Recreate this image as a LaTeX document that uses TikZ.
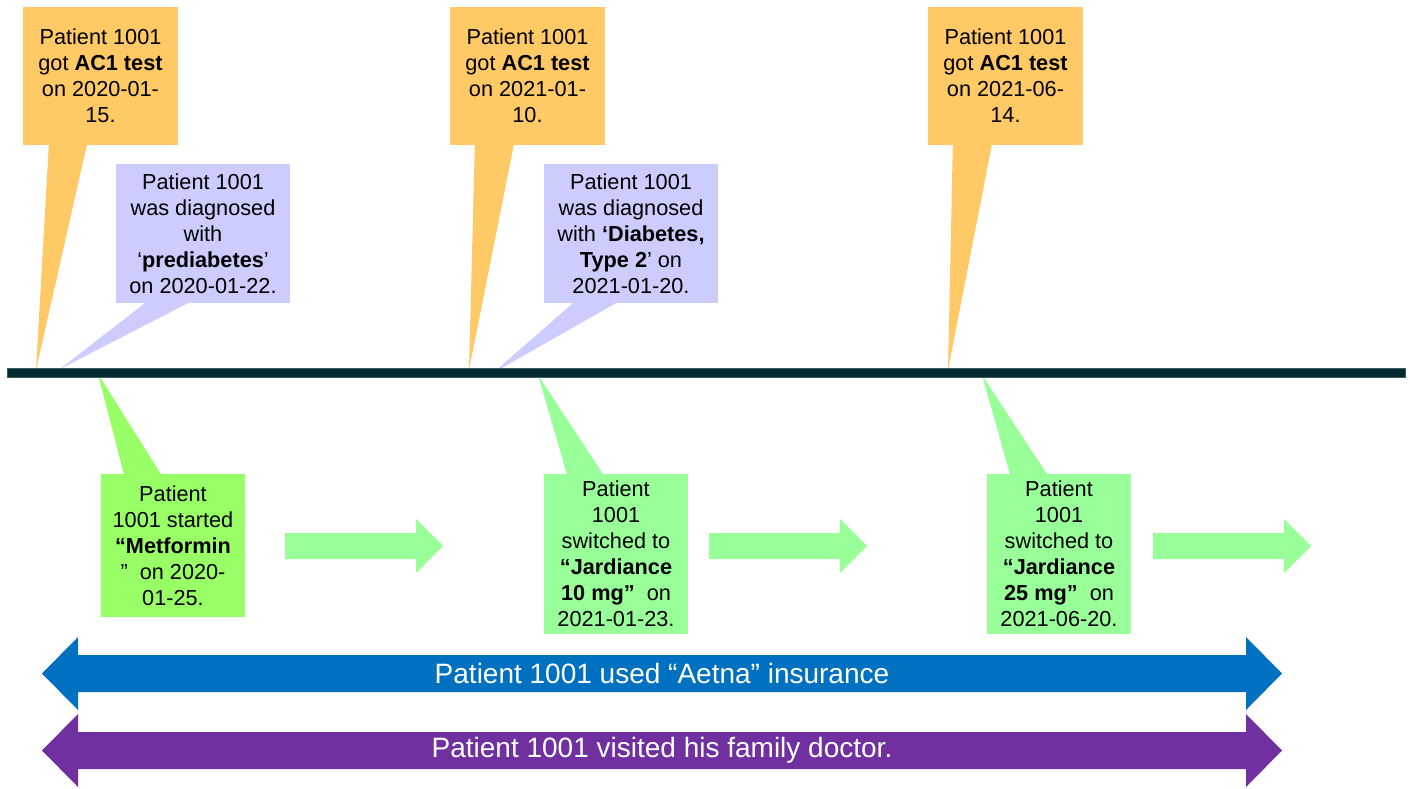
\documentclass[tikz,border=0pt]{standalone}
\usepackage{fontspec}
\setmainfont{Liberation Sans}
\usetikzlibrary{calc}
\definecolor{corange}{HTML}{FFCA66}
\definecolor{cpurple}{HTML}{CCCCFF}
\definecolor{cgreenA}{HTML}{99FF66}
\definecolor{cgreenB}{HTML}{99FF99}
\definecolor{cline}{HTML}{052A30}
\definecolor{clineb}{HTML}{3A5A5E}
\definecolor{cblue}{HTML}{0070C0}
\definecolor{cviolet}{HTML}{7030A0}
\begin{document}
\begin{tikzpicture}[x=1pt,y=-1pt,
  callout/.style={inner sep=0pt, align=center, font=\fontsize{21.7}{26}\selectfont},
  obox/.style={callout, fill=corange, minimum width=155, minimum height=138},
  pbox/.style={callout, fill=cpurple, minimum width=174, minimum height=139},
  gboxA/.style={callout, fill=cgreenA, minimum width=144, minimum height=143},
  gboxB/.style={callout, fill=cgreenB, minimum width=144, minimum height=160},
  bandtext/.style={text=white, font=\fontsize{28}{30}\selectfont, inner sep=0pt},
  garrow/.pic={\fill[cgreenB] (0,-13) -- (131,-13) -- (131,-27) -- (158,0) -- (131,27) -- (131,13) -- (0,13) -- cycle;}
]
\useasboundingbox (0,0) rectangle (1410,789);

% tip coordinates on the timeline
\coordinate (to1) at (36,370);
\coordinate (to2) at (469,370);
\coordinate (to3) at (948,370);
\coordinate (tp1) at (60,369);
\coordinate (tp2) at (493,373);
\coordinate (tg1) at (98,374);
\coordinate (tg2) at (538,375);
\coordinate (tg3) at (982,375);

% boxes
\node[obox] (o1) at (100.5,76) {Patient 1001\\got \textbf{AC1 test}\\on 2020-01-\\15.};
\node[obox] (o2) at (527.5,76) {Patient 1001\\got \textbf{AC1 test}\\on 2021-01-\\10.};
\node[obox] (o3) at (1005.5,76) {Patient 1001\\got \textbf{AC1 test}\\on 2021-06-\\14.};
\node[pbox] (p1) at (203,233.5) {Patient 1001\\was diagnosed\\with\\‘\textbf{prediabetes}’\\on 2020-01-22.};
\node[pbox] (p2) at (631,233.5) {Patient 1001\\was diagnosed\\with \textbf{‘Diabetes,}\\\textbf{Type 2}’ on\\2021-01-20.};
\node[gboxA] (g1) at (173,545.5) {Patient\\1001 started\\\textbf{“Metformin}\\” \ on 2020-\\01-25.};
\node[gboxB] (g2) at (616,554) {Patient\\1001\\switched to\\\textbf{“Jardiance}\\\textbf{10 mg”} \ on\\2021-01-23.};
\node[gboxB] (g3) at (1059,554) {Patient\\1001\\switched to\\\textbf{“Jardiance}\\\textbf{25 mg”} \ on\\2021-06-20.};

% pointers
\fill[corange] ($(o1.south west)+(26,0)$) -- (to1) -- ($(o1.south west)+(64,0)$) -- cycle;
\fill[corange] ($(o2.south west)+(25,0)$) -- (to2) -- ($(o2.south west)+(64,0)$) -- cycle;
\fill[corange] ($(o3.south west)+(25,0)$) -- (to3) -- ($(o3.south west)+(64,0)$) -- cycle;
\fill[cpurple] ($(p1.south west)+(29,0)$) -- (tp1) -- ($(p1.south west)+(72,0)$) -- cycle;
\fill[cpurple] ($(p2.south west)+(29,0)$) -- (tp2) -- ($(p2.south west)+(72,0)$) -- cycle;
\fill[cgreenA] ($(g1.north west)+(23,0)$) -- (tg1) -- ($(g1.north west)+(60,0)$) -- cycle;
\fill[cgreenB] ($(g2.north west)+(23,0)$) -- (tg2) -- ($(g2.north west)+(59,0)$) -- cycle;
\fill[cgreenB] ($(g3.north west)+(23,0)$) -- (tg3) -- ($(g3.north west)+(60,0)$) -- cycle;

% timeline
\filldraw[fill=cline, draw=clineb, line width=0.8] (7,368) rectangle (1405,377);

% green block arrows
\pic at (285,546) {garrow};
\pic at (709,546) {garrow};
\pic at (1153,546) {garrow};

% double arrows
\fill[cblue] (42,673.5) -- (78,637) -- (78,655) -- (1246,655) -- (1246,637) -- (1282,673.5) -- (1246,710) -- (1246,692) -- (78,692) -- (78,710) -- cycle;
\node[bandtext] (ins) at (662,673.5) {Patient 1001 used “Aetna” insurance};
\fill[cviolet] (42,750.5) -- (78,714) -- (78,732) -- (1246,732) -- (1246,714) -- (1282,750.5) -- (1246,787) -- (1246,769) -- (78,769) -- (78,787) -- cycle;
\node[bandtext] (doc) at (662,750.5) {Patient 1001 visited his family doctor.};
\end{tikzpicture}
\end{document}
